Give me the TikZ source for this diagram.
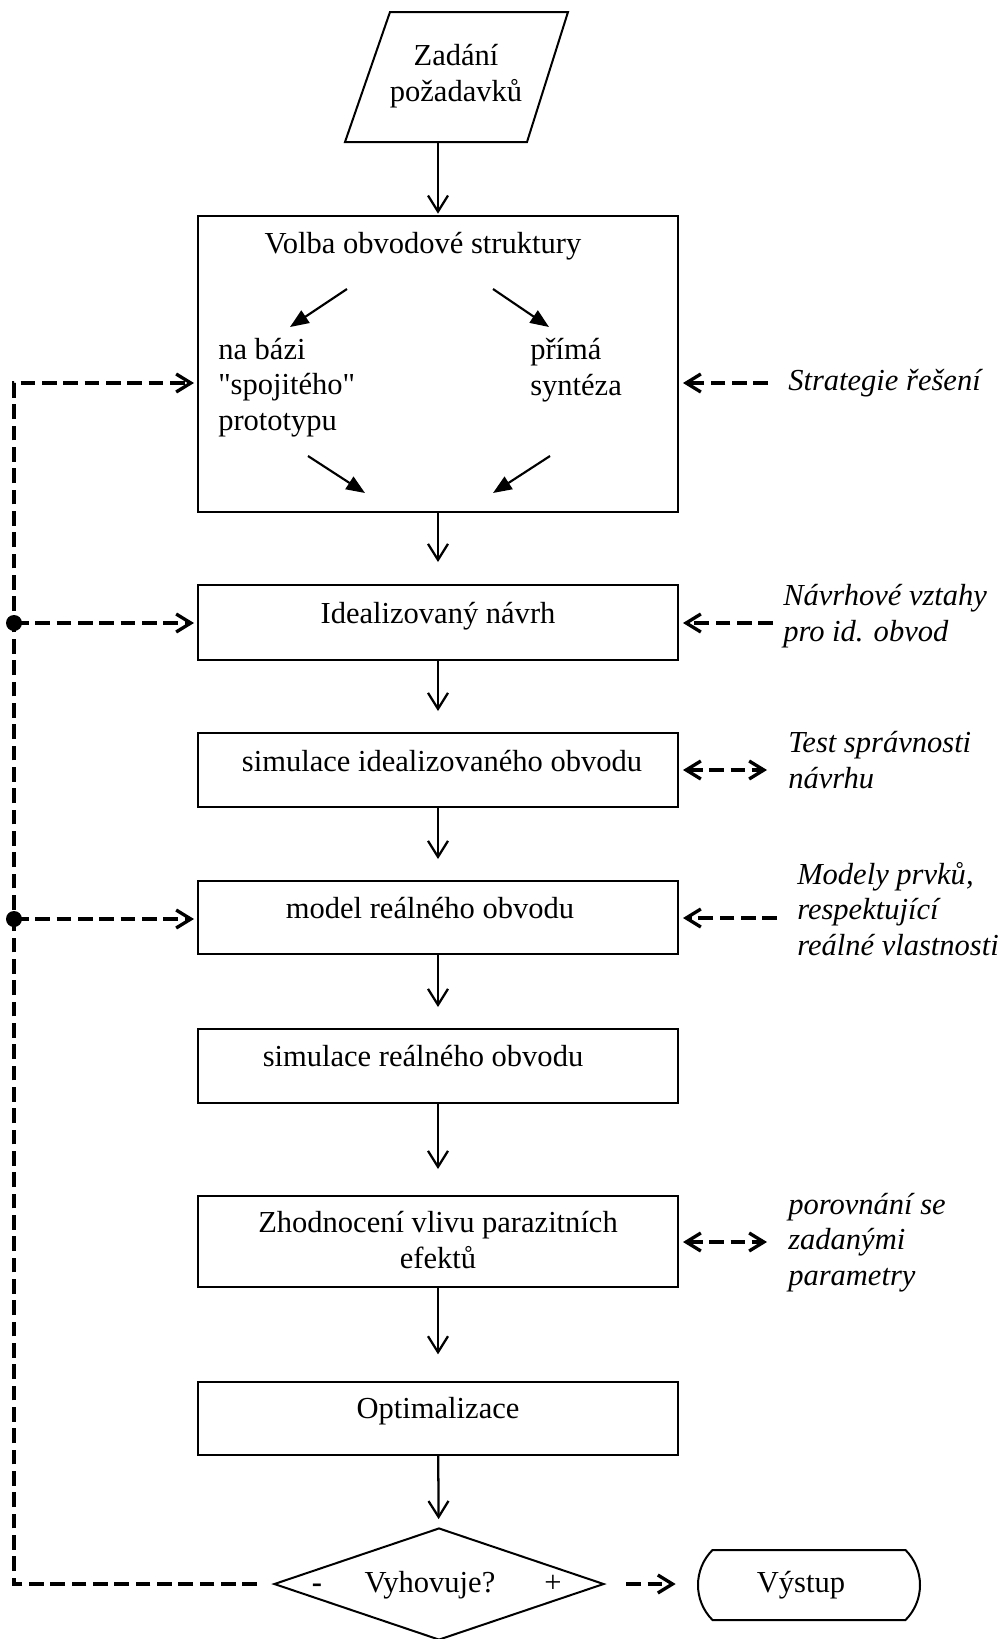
\documentclass[tikz,border=0pt]{standalone}
\usepackage{fontspec}
\setmainfont{Liberation Serif}[Ligatures=TeXOff]
\usetikzlibrary{arrows.meta,shapes.geometric,shapes.misc}
\begin{document}
\begin{tikzpicture}[x=0.75pt,y=-0.75pt,
  every node/.style={font=\fontsize{22.9}{26.3}\selectfont, inner sep=0pt},
  box/.style={draw, line width=1.5pt, minimum width=360pt},
  txt/.style={anchor=base},
  ltxt/.style={anchor=base west, align=left},
  lab/.style={anchor=base west, align=left, font=\fontsize{22.9}{26.6}\selectfont\itshape},
  flow/.style={line width=1.7pt, -{Straight Barb[length=12pt,width=15pt]}},
  inner/.style={line width=1.6pt, -{Triangle[length=14pt,width=11pt]}},
  dline/.style={line width=2.5pt, dash pattern=on 11pt off 5pt},
  dtip/.style={-{Straight Barb[length=11pt,width=13.5pt]}},
  dtips/.style={{Straight Barb[length=11pt,width=13.5pt]}-{Straight Barb[length=11pt,width=13.5pt]}}
]
\fill[white] (0,0) rectangle (1005,1639);
\useasboundingbox (0,0) rectangle (1005,1639);

% input parallelogram
\coordinate (pTL) at (390,12);
\coordinate (pTR) at (568,12);
\coordinate (pBR) at (527,142);
\coordinate (pBL) at (345,142);
\draw[line width=1.5pt, line join=miter] (pTL) -- (pTR) -- (pBR) -- (pBL) -- cycle;
\node[anchor=base, align=center] (zad) at (456,101) {Zadání\\požadavků};
\coordinate (zadB) at (438,142);

% boxes
\node[box, minimum height=222pt] (volba) at (438,364) {};
\node[box, minimum height=56.25pt] (ideal) at (438,622.5) {};
\node[box, minimum height=55.5pt] (simid) at (438,770) {};
\node[box, minimum height=54.75pt] (model) at (438,917.5) {};
\node[box, minimum height=55.5pt] (simre) at (438,1066) {};
\node[box, minimum height=68.25pt] (zhod) at (438,1241.5) {};
\node[box, minimum height=54.75pt] (opt) at (438,1418.5) {};
\node[diamond, draw, line width=1.5pt, aspect=2.95, minimum width=247.5pt, minimum height=84pt] (dec) at (439,1584) {};
\node[rounded rectangle, draw, line width=1.5pt, rounded rectangle arc length=90, minimum width=166.5pt, minimum height=52.5pt] (vys) at (809,1585) {};

% box texts
\node[txt] (tvolba) at (423,253) {Volba obvodové struktury};
\node[ltxt] (nb) at (218,430) {na bázi\\"spojitého"\\prototypu};
\node[ltxt] (ps) at (530,395) {přímá\\syntéza};
\node[txt] (tideal) at (438,623) {Idealizovaný návrh};
\node[txt] (tsimid) at (442,771) {simulace idealizovaného obvodu};
\node[txt] (tmodel) at (430,918) {model reálného obvodu};
\node[txt] (tsimre) at (423,1066) {simulace reálného obvodu};
\node[txt, align=center] (tzhod) at (438,1268) {Zhodnocení vlivu parazitních\\efektů};
\node[txt] (topt) at (438,1418) {Optimalizace};
\node[txt] (tvyh) at (430,1592) {Vyhovuje?};
\node[txt] (tminus) at (317,1592) {\textbf{-}};
\node[txt] (tplus) at (553,1592) {+};
\node[txt] (tvys) at (801,1592) {Výstup};

% inner arrows
\coordinate (a1s) at (347,289); \coordinate (a1e) at (290,327);
\coordinate (a2s) at (493,289); \coordinate (a2e) at (549,327);
\coordinate (a3s) at (308,456); \coordinate (a3e) at (365,493);
\coordinate (a4s) at (550,456); \coordinate (a4e) at (493,493);
\draw[inner] (a1s) -- (a1e);
\draw[inner] (a2s) -- (a2e);
\draw[inner] (a3s) -- (a3e);
\draw[inner] (a4s) -- (a4e);

% main flow
\draw[flow, shorten >=1pt] (zadB) -- (volba.north);
\draw[flow, shorten >=16.5pt] (volba) -- (ideal);
\draw[flow, shorten >=15.75pt] (ideal) -- (simid);
\draw[flow, shorten >=15.75pt] (simid) -- (model);
\draw[flow, shorten >=15.75pt] (model) -- (simre);
\draw[flow, shorten >=19.5pt] (simre) -- (zhod);
\draw[flow, shorten >=20pt] (zhod) -- (opt);
\draw[flow, shorten >=6pt] (opt) -- (dec);

% right labels
\node[lab] (l1) at (788,390) {Strategie řešení};
\node[lab] (l2) at (783,641) {Návrhové vztahy\\pro id. obvod};
\node[lab] (l3) at (788,788) {Test správnosti\\návrhu};
\node[lab] (l4) at (797,955) {Modely prvků,\\respektující\\reálné vlastnosti};
\node[lab] (l5) at (788,1285) {porovnání se\\zadanými\\parametry};

\coordinate (r1) at (768,383);
\coordinate (r2) at (773,623);
\coordinate (r3) at (767,770);
\coordinate (r4) at (777,918);
\coordinate (r5) at (767,1242);
\draw[dline, dtip, shorten >=3pt] (r1) -- (volba.east |- r1);
\draw[dline, dtip, shorten >=3pt] (r2) -- (ideal.east |- r2);
\draw[dline, dtips, shorten <=3pt] (simid.east |- r3) -- (r3);
\draw[dline, dtip, shorten >=3pt] (r4) -- (model.east |- r4);
\draw[dline, dtips, shorten <=3pt] (zhod.east |- r5) -- (r5);

% feedback loop
\coordinate (LB) at (14,1584);
\coordinate (LT) at (14,383);
\coordinate (D1) at (14,623);
\coordinate (D2) at (14,919);
\draw[dline, dtip, shorten <=12pt, shorten >=2.25pt] (dec.west) -- (LB) -- (LT) -- (volba.west |- LT);
\fill (D1) circle[radius=6pt];
\fill (D2) circle[radius=6pt];
\draw[dline, dtip, shorten >=2.25pt] (D1) -- (ideal.west |- D1);
\draw[dline, dtip, shorten >=2.25pt] (D2) -- (model.west |- D2);

% output
\draw[dline, dtip, shorten <=16pt, shorten >=16pt] (dec.east) -- (dec.east -| vys.west);
\end{tikzpicture}
\end{document}
